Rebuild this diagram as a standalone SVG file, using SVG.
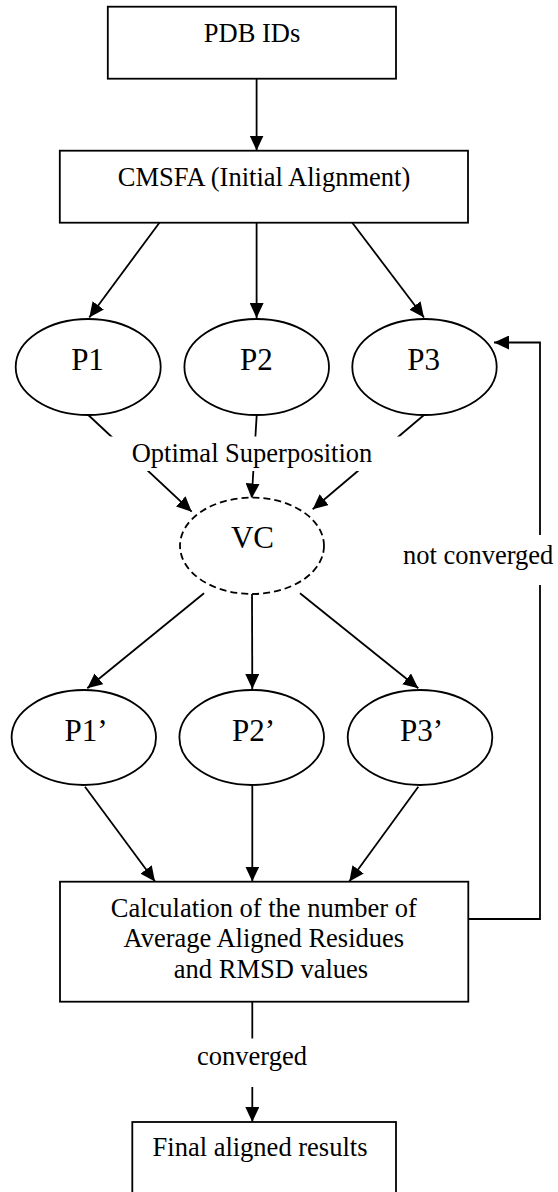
<svg xmlns="http://www.w3.org/2000/svg" width="558" height="1192" viewBox="0 0 558 1192">
<style>
.box{fill:#fff;stroke:#000;stroke-width:1.8}
.ell{fill:#fff;stroke:#000;stroke-width:1.8}
.dash{stroke-dasharray:7 4}
.t{font-family:"Liberation Serif","Times New Roman",serif;font-size:26.5px;fill:#000}
.big{font-size:31px}
.c{text-anchor:middle}
.ln{fill:none;stroke:#000;stroke-width:1.8}
.bg{fill:#fff;stroke:none}
</style>
<defs>
<marker id="ah" markerUnits="userSpaceOnUse" markerWidth="15" markerHeight="14" viewBox="0 0 15 14" refX="15" refY="7" orient="auto">
<path d="M0,0 L15,7 L0,14 z" fill="#000"/>
</marker>
</defs>
<rect width="558" height="1192" fill="#fff"/>
<g id="connectors">
<line class="ln" x1="256.6" y1="79" x2="256.6" y2="150.5" marker-end="url(#ah)"/>
<line class="ln" x1="159.4" y1="222.7" x2="89.3" y2="317.5" marker-end="url(#ah)"/>
<line class="ln" x1="256.6" y1="222.7" x2="256.6" y2="318" marker-end="url(#ah)"/>
<line class="ln" x1="352.3" y1="222.7" x2="424" y2="317.5" marker-end="url(#ah)"/>
<g id="edge-superposition">
<line class="ln" x1="88.3" y1="415" x2="191.7" y2="511.7" marker-end="url(#ah)"/>
<line class="ln" x1="256.7" y1="415" x2="251.7" y2="498.5" marker-end="url(#ah)"/>
<line class="ln" x1="424" y1="415" x2="312.7" y2="509.3" marker-end="url(#ah)"/>
<rect class="bg" x="100" y="436.5" width="302" height="34.5"/>
<text class="t c" x="252" y="461.7">Optimal Superposition</text>
</g>
<line class="ln" x1="204" y1="593.3" x2="87.3" y2="688.3" marker-end="url(#ah)"/>
<line class="ln" x1="252" y1="594" x2="252.3" y2="689" marker-end="url(#ah)"/>
<line class="ln" x1="300" y1="593.3" x2="418.3" y2="688.3" marker-end="url(#ah)"/>
<line class="ln" x1="85" y1="786.7" x2="155" y2="881.5" marker-end="url(#ah)"/>
<line class="ln" x1="252.3" y1="786" x2="252.3" y2="881.5" marker-end="url(#ah)"/>
<line class="ln" x1="418.3" y1="786.7" x2="349.3" y2="881.5" marker-end="url(#ah)"/>
<g id="edge-not-converged">
<polyline class="ln" points="468.3,919 540,919 540,342.5 494,342.5" marker-end="url(#ah)"/>
<rect class="bg" x="398" y="535" width="158" height="50"/>
<text class="t" x="403" y="564">not converged</text>
</g>
<g id="edge-converged">
<line class="ln" x1="252.3" y1="1002" x2="252.3" y2="1122" marker-end="url(#ah)"/>
<rect class="bg" x="190" y="1038.5" width="124" height="48.5"/>
<text class="t c" x="252" y="1065">converged</text>
</g>
</g>
<g id="node-pdb">
<rect class="box" x="107.8" y="6.7" width="288.2" height="72"/>
<text class="t c" x="252" y="42.3">PDB IDs</text>
</g>
<g id="node-cmsfa">
<rect class="box" x="59.8" y="150.7" width="408.2" height="72"/>
<text class="t c" x="264" y="185.7">CMSFA (Initial Alignment)</text>
</g>
<g id="node-p1">
<ellipse class="ell" cx="88.2" cy="367" rx="72.5" ry="48"/>
<text class="t big c" x="87.5" y="370">P1</text>
</g>
<g id="node-p2">
<ellipse class="ell" cx="256.7" cy="367" rx="72.3" ry="48"/>
<text class="t big c" x="256.3" y="370">P2</text>
</g>
<g id="node-p3">
<ellipse class="ell" cx="424.5" cy="367" rx="72.2" ry="48"/>
<text class="t big c" x="423.7" y="370">P3</text>
</g>
<g id="node-vc">
<ellipse class="ell dash" cx="252" cy="545.8" rx="72" ry="48.2"/>
<text class="t big c" x="252.5" y="548.3">VC</text>
</g>
<g id="node-p1p">
<ellipse class="ell" cx="83.8" cy="737.5" rx="72.2" ry="47.5"/>
<text class="t big c" x="86" y="740.7">P1’</text>
</g>
<g id="node-p2p">
<ellipse class="ell" cx="251.7" cy="737.5" rx="72.3" ry="47.5"/>
<text class="t big c" x="253.5" y="740.7">P2’</text>
</g>
<g id="node-p3p">
<ellipse class="ell" cx="420" cy="737.5" rx="72.3" ry="47.5"/>
<text class="t big c" x="421.5" y="740.7">P3’</text>
</g>
<g id="node-calc">
<rect class="box" x="60" y="881.7" width="408.3" height="120"/>
<text class="t c" x="263.8" y="916.7">Calculation of the number of</text>
<text class="t c" x="263.8" y="946.7">Average Aligned Residues</text>
<text class="t c" x="271" y="978">and RMSD values</text>
</g>
<g id="node-final">
<rect class="box" x="132.3" y="1122" width="263.7" height="80"/>
<text class="t c" x="260" y="1156.3">Final aligned results</text>
</g>
</svg>
